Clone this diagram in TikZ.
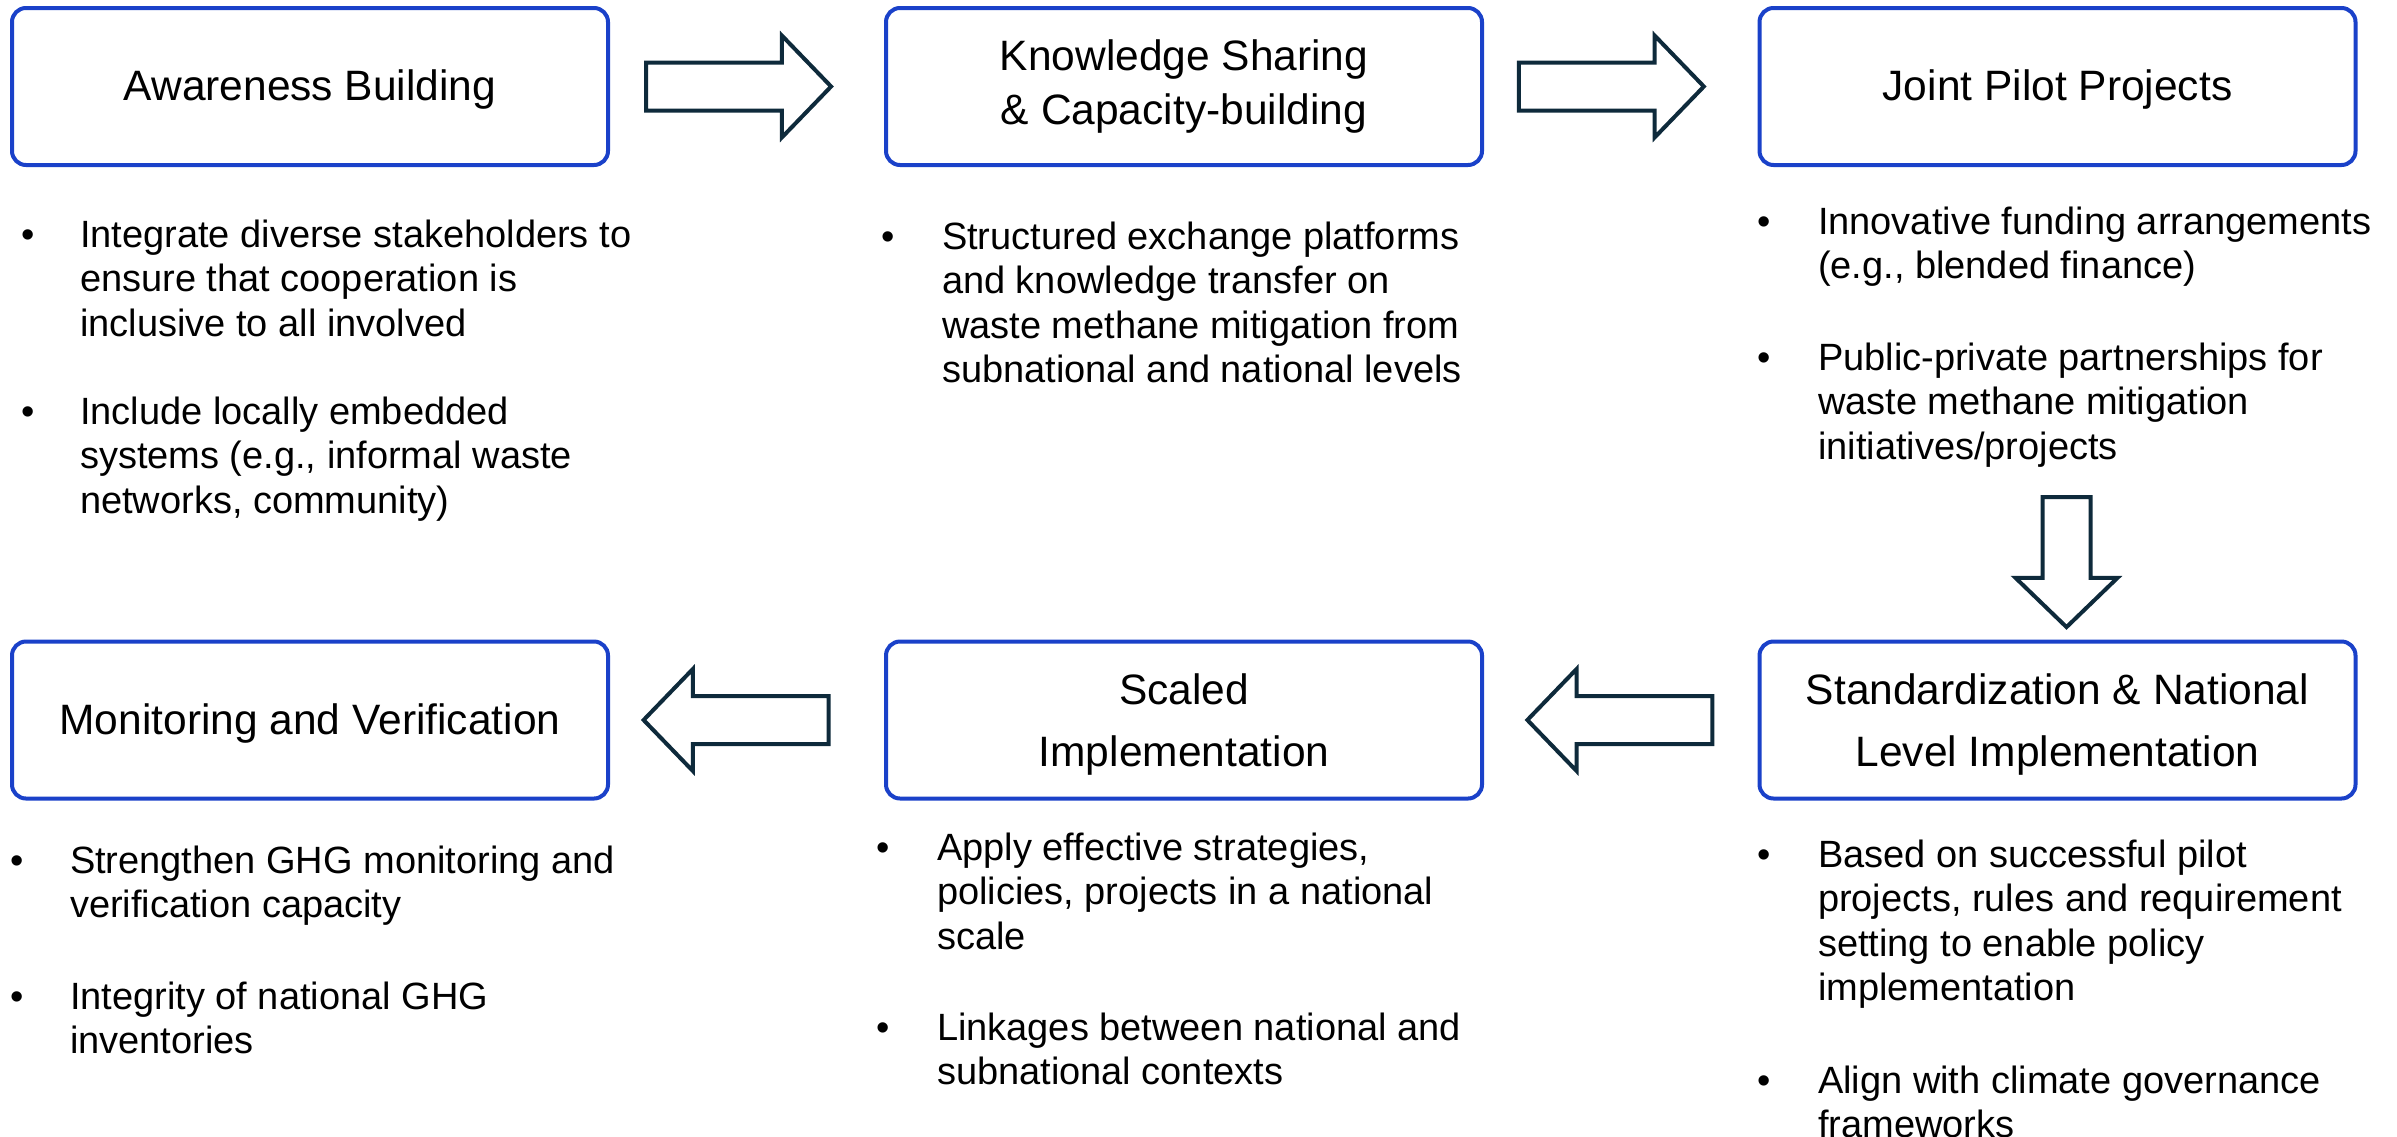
\documentclass[tikz,border=0pt]{standalone}
\usepackage{fontspec}
\setmainfont{Liberation Sans}
\usetikzlibrary{calc,shapes.arrows}

\definecolor{boxblue}{HTML}{1A41C9}
\definecolor{arrowink}{HTML}{0E2A3B}

% one bullet with its lines: name, bullet x, text x, first baseline, {lines}
\newcommand\bulletlines[5]{%
  \node[bodytext,anchor=base] (#1) at (#2,#4) {\textbullet};
  \foreach \ln [count=\k] in {#5} {%
    \node[bodytext,anchor=base west] (#1-\k) at (#3,{#4+(\k-1)*44.5}) {\ln};
  }%
}

\tikzset{
  stage/.style={draw=boxblue, line width=4, rounded corners=14, fill=white,
    minimum width=596, minimum height=157, inner sep=0},
  stagetitle/.style={align=center, font=\fontsize{42.5}{62}\selectfont, inner sep=0},
  bodytext/.style={font=\fontsize{38}{44.5}\selectfont, inner sep=0, outer sep=0},
  blockarrow/.style={single arrow, draw=arrowink, line width=4, fill=white,
    inner sep=22, single arrow head extend=27, single arrow tip angle=92,
    minimum height=185}
}

\begin{document}
\begin{tikzpicture}[x=1pt,y=-1pt]
\useasboundingbox (0,0) rectangle (2397,1136);

% stages
\node[stage] (b1) at (310,86.5) {};
\node[stage] (b2) at (1184,86.5) {};
\node[stage] (b3) at (2057.5,86.5) {};
\node[stage] (b4) at (310,720) {};
\node[stage] (b5) at (1184,720) {};
\node[stage] (b6) at (2057.5,720) {};

\node[stagetitle] (t1) at ($(b1)+(0,3)$) {Awareness Building};
\node[stagetitle, font=\fontsize{42.5}{54}\selectfont] (t2) at ($(b2)+(0,0)$) {Knowledge Sharing\\\& Capacity-building};
\node[stagetitle] (t3) at ($(b3)+(0,3)$) {Joint Pilot Projects};
\node[stagetitle] (t4) at ($(b4)+(0,3)$) {Monitoring and Verification};
\node[stagetitle] (t5) at ($(b5)+(0,4.5)$) {Scaled\\Implementation};
\node[stagetitle] (t6) at ($(b6)+(0,4.5)$) {Standardization \& National\\Level Implementation};

% flow arrows
\node[blockarrow] (a12) at ($(b1.east)!0.5!(b2.west)+(-20,0)$) {};
\node[blockarrow] (a23) at ($(b2.east)!0.5!(b3.west)+(-21,0)$) {};
\node[blockarrow, minimum height=130, shape border rotate=270] (a36) at ($(b6.north)+(9,-89)$) {};
\node[blockarrow, shape border rotate=180] (a65) at ($(b5.east)!0.5!(b6.west)+(10.7,0)$) {};
\node[blockarrow, shape border rotate=180] (a54) at ($(b4.east)!0.5!(b5.west)+(0.7,0)$) {};

% bullet points
\bulletlines{p1a}{28}{80}{247}{{Integrate diverse stakeholders to},{ensure that cooperation is},{inclusive to all involved}}
\bulletlines{p1b}{28}{80}{424}{{Include locally embedded},{systems (e.g., informal waste},{networks, community)}}

\bulletlines{p2a}{888}{942}{249}{{Structured exchange platforms},{and knowledge transfer on},{waste methane mitigation from},{subnational and national levels}}

\bulletlines{p3a}{1764}{1818}{234}{{Innovative funding arrangements},{(e.g., blended finance)}}
\bulletlines{p3b}{1764}{1818}{370}{{Public-private partnerships for},{waste methane mitigation},{initiatives/projects}}

\bulletlines{p4a}{17}{70}{873}{{Strengthen GHG monitoring and},{verification capacity}}
\bulletlines{p4b}{17}{70}{1009}{{Integrity of national GHG},{inventories}}

\bulletlines{p5a}{883}{937}{860}{{Apply effective strategies,},{policies, projects in a national},{scale}}
\bulletlines{p5b}{883}{937}{1040}{{Linkages between national and},{subnational contexts}}

\bulletlines{p6a}{1764}{1818}{867}{{Based on successful pilot},{projects, rules and requirement},{setting to enable policy},{implementation}}
\bulletlines{p6b}{1764}{1818}{1093}{{Align with climate governance},{frameworks}}
\end{tikzpicture}
\end{document}
